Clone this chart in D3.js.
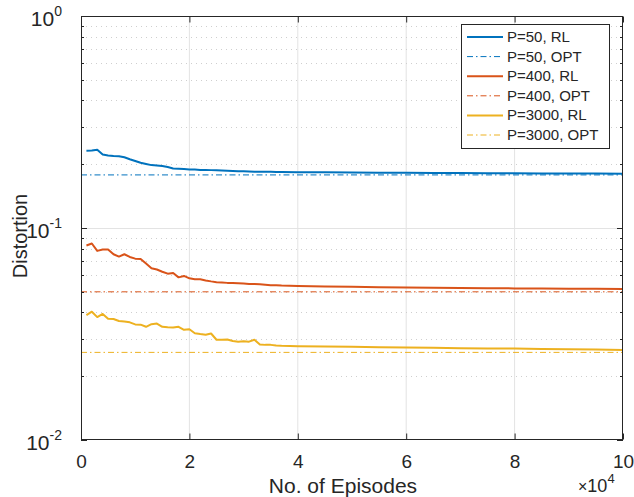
<!DOCTYPE html>
<html>
<head>
<meta charset="utf-8">
<script src="https://cdn.jsdelivr.net/npm/d3@7"></script>
<style>
  html, body { margin: 0; padding: 0; background: #fff; }
  svg { display: block; font-family: "Liberation Sans", Arial, sans-serif; }
</style>
</head>
<body>
<svg id="chart" width="634" height="497"></svg>
<script>
// ---- data ----
const episodes = [1000,2000,3000,4000,5000,6000,7000,8000,9000,10000,
  11000,12000,13000,14000,15000,16000,17000,18000,19000,20000,
  21000,22000,23000,24000,25000,26000,27000,28000,29000,30000,
  31000,32000,33000,34000,35000,36000,37000,
  40000,45000,50000,55000,60000,65000,70000,75000,80000,85000,90000,95000,100000];
const rlP50 = [0.2317,0.232,0.234,0.222,0.220,0.2185,0.218,0.2155,0.211,0.207,
  0.203,0.2005,0.198,0.197,0.196,0.194,0.191,0.1905,0.1898,0.189,
  0.1887,0.188,0.188,0.1875,0.187,0.1865,0.186,0.1855,0.1852,0.185,
  0.1846,0.1843,0.1842,0.184,0.184,0.1838,0.1837,
  0.1833,0.183,0.1826,0.1823,0.182,0.1818,0.1815,0.1813,0.181,0.1809,0.1808,0.1806,0.1805];
const rlP400 = [0.0827,0.0845,0.078,0.0792,0.0792,0.0752,0.0733,0.0752,0.073,0.0717,
  0.0715,0.068,0.0646,0.0637,0.0622,0.0609,0.0613,0.0585,0.0594,0.0579,
  0.0573,0.0573,0.0566,0.056,0.0555,0.0553,0.0551,0.055,0.0549,0.0547,
  0.0545,0.0544,0.0543,0.054,0.0537,0.0537,0.0535,
  0.0533,0.053,0.0528,0.0526,0.0524,0.0522,0.0521,0.052,0.0519,0.0518,0.0517,0.0517,0.0516];
const rlP3000 = [0.0388,0.0403,0.038,0.0393,0.0373,0.0372,0.0364,0.0362,0.0359,0.0351,
  0.035,0.0342,0.0352,0.0354,0.0342,0.034,0.0339,0.0342,0.0331,0.0333,
  0.0319,0.0316,0.0314,0.0318,0.0297,0.0297,0.0298,0.0293,0.0291,0.0292,
  0.0291,0.0297,0.0282,0.0281,0.0281,0.0279,0.0278,
  0.0277,0.0276,0.0275,0.0274,0.0273,0.0272,0.0271,0.027,0.027,0.0269,0.0268,0.0267,0.0266];
const optValues = [0.178, 0.0500, 0.0259];
const optRange = [0, 100000];
const seriesNames = ["P=50, RL","P=50, OPT","P=400, RL","P=400, OPT","P=3000, RL","P=3000, OPT"];
const colors = ["#0072BD","#D95319","#EDB120"];
const xTicks = [0,20000,40000,60000,80000,100000];
const yDecades = [0.01, 0.1, 1];
const yExponents = ["-2","-1","0"];
const xLabel = "No. of Episodes";
const yLabel = "Distortion";

// ---- layout ----
const W = 634, H = 497;
const L = 81, R = 623, T = 16, B = 440;
const svg = d3.select("#chart");
const textColor = "#262626";

const x = d3.scaleLinear().domain([0, 100000]).range([L, R]);
const y = d3.scaleLog().domain([0.01, 1]).range([B, T]);

// minor values
const minorVals = [];
[0.01, 0.1].forEach(d => { for (let k = 2; k <= 9; k++) minorVals.push(+(d*k).toPrecision(3)); });

// grid
const grid = svg.append("g");
grid.selectAll("line.xg").data(xTicks.slice(1, -1)).enter().append("line")
  .attr("x1", d => x(d)).attr("x2", d => x(d)).attr("y1", T).attr("y2", B)
  .attr("stroke", "#e3e3e3").attr("stroke-width", 1);
grid.selectAll("line.ymg").data(minorVals).enter().append("line")
  .attr("x1", L).attr("x2", R).attr("y1", d => Math.round(y(d)) + 0.5).attr("y2", d => Math.round(y(d)) + 0.5)
  .attr("stroke", "#cfcfcf").attr("stroke-width", 1).attr("stroke-dasharray", "1,4");
grid.selectAll("line.yg").data([0.1]).enter().append("line")
  .attr("x1", L).attr("x2", R).attr("y1", d => Math.round(y(d)) + 0.5).attr("y2", d => Math.round(y(d)) + 0.5)
  .attr("stroke", "#e3e3e3").attr("stroke-width", 1);

// clip
svg.append("clipPath").attr("id", "clip").append("rect")
  .attr("x", L).attr("y", T).attr("width", R - L).attr("height", B - T);
const plot = svg.append("g").attr("clip-path", "url(#clip)");

const line = d3.line().x(d => x(d[0])).y(d => y(d[1]));
const rlSeries = [rlP50, rlP400, rlP3000];
const dashPat = "6,3,1.5,3";

rlSeries.forEach((vals, i) => {
  plot.append("path")
    .datum(episodes.map((e, j) => [e, vals[j]]))
    .attr("d", line).attr("fill", "none")
    .attr("stroke", colors[i]).attr("stroke-width", 2)
    .attr("stroke-linejoin", "round");
  plot.append("path")
    .datum(optRange.map(e => [e, optValues[i]]))
    .attr("d", line).attr("fill", "none")
    .attr("stroke", colors[i]).attr("stroke-width", 1)
    .attr("stroke-dasharray", dashPat);
});

// axes box
const axCol = "#262626";
svg.append("rect").attr("x", L + 0.5).attr("y", T + 0.5).attr("width", R - L - 1).attr("height", B - T - 1)
  .attr("fill", "none").attr("stroke", axCol).attr("stroke-width", 1);

// x axis ticks (bottom + top, inward)
const xAxisB = d3.axisBottom(x).tickValues(xTicks).tickSize(-6).tickPadding(10)
  .tickFormat(d => d3.format("d")(d / 10000));
const gx = svg.append("g").attr("transform", `translate(0,${B - 0.5})`).call(xAxisB);
gx.select(".domain").remove();
gx.selectAll("line").attr("stroke", axCol);
gx.selectAll("text").attr("fill", textColor).attr("font-size", 19)
  .attr("font-family", "Liberation Sans, Arial, sans-serif").attr("dy", null).attr("y", 28.5);
const xAxisT = d3.axisTop(x).tickValues(xTicks).tickSize(-6).tickFormat("");
const gxt = svg.append("g").attr("transform", `translate(0,${T + 0.5})`).call(xAxisT);
gxt.select(".domain").remove();
gxt.selectAll("line").attr("stroke", axCol);

// y ticks: major + minor, left + right inward
function yTicks(xpos, dir) {
  const g = svg.append("g");
  g.selectAll("line.maj").data(yDecades).enter().append("line")
    .attr("x1", xpos).attr("x2", xpos + dir * 6)
    .attr("y1", d => Math.round(y(d)) + 0.5).attr("y2", d => Math.round(y(d)) + 0.5)
    .attr("stroke", axCol);
  g.selectAll("line.min").data(minorVals).enter().append("line")
    .attr("x1", xpos).attr("x2", xpos + dir * 3)
    .attr("y1", d => Math.round(y(d)) + 0.5).attr("y2", d => Math.round(y(d)) + 0.5)
    .attr("stroke", axCol);
}
yTicks(L, 1);
yTicks(R, -1);

// y tick labels 10^n
const yl = svg.append("g");
yDecades.forEach((d, i) => {
  const t = yl.append("text").attr("x", L - 19).attr("y", y(d) + 10)
    .attr("text-anchor", "end").attr("fill", textColor)
    .attr("font-size", 21);
  t.append("tspan").text("10");
  t.append("tspan").attr("dy", -10).attr("font-size", 14).text(yExponents[i]);
});

// axis labels
svg.append("text").attr("x", 343).attr("y", 492.5)
  .attr("text-anchor", "middle").attr("fill", textColor).attr("font-size", 21)
  .text(xLabel);
svg.append("text").attr("transform", `translate(27,${(T + B) / 2 + 8}) rotate(-90)`)
  .attr("text-anchor", "middle").attr("fill", textColor).attr("font-size", 20)
  .text(yLabel);

// x10^4 multiplier
const mult = svg.append("text").attr("x", 578).attr("y", 492).attr("fill", textColor).attr("font-size", 18);
mult.append("tspan").attr("font-size", 16).text("\u00d7");
mult.append("tspan").text("10");
mult.append("tspan").attr("dy", -9).attr("font-size", 13).text("4");

// legend
const lg = svg.append("g");
const lx = 461, ly = 24, lw = 148, lh = 124;
lg.append("rect").attr("x", lx + 0.5).attr("y", ly + 0.5).attr("width", lw).attr("height", lh)
  .attr("fill", "#fff").attr("stroke", axCol).attr("stroke-width", 1);
seriesNames.forEach((name, k) => {
  const ci = Math.floor(k / 2), isOpt = k % 2 === 1;
  const yy = 37 + k * 19.6;
  lg.append("line").attr("x1", lx + 6).attr("x2", lx + 42).attr("y1", yy).attr("y2", yy)
    .attr("stroke", colors[ci]).attr("stroke-width", isOpt ? 1 : 2)
    .attr("stroke-dasharray", isOpt ? dashPat : null);
  lg.append("text").attr("x", lx + 46).attr("y", yy + 5).attr("fill", textColor)
    .attr("font-size", 15).text(name);
});
</script>
</body>
</html>
